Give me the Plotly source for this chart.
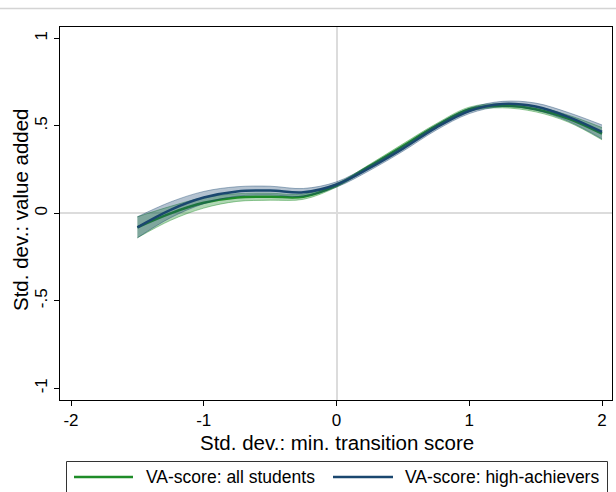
import plotly.graph_objects as go

x_vals = [-1.5, -1.25, -1.0, -0.75, -0.5, -0.25, 0.0, 0.25, 0.5, 0.75, 1.0, 1.25, 1.5, 1.75, 2.0]

all_mean = [-0.08, 0.0, 0.06, 0.09, 0.095, 0.095, 0.16, 0.27, 0.385, 0.50, 0.595, 0.615, 0.595, 0.54, 0.455]
all_lo   = [-0.14, -0.04, 0.03, 0.068, 0.075, 0.08, 0.15, 0.26, 0.373, 0.488, 0.583, 0.603, 0.58, 0.52, 0.42]
all_hi   = [-0.02, 0.04, 0.09, 0.112, 0.115, 0.11, 0.17, 0.28, 0.397, 0.512, 0.607, 0.627, 0.61, 0.56, 0.49]

high_mean = [-0.08, 0.02, 0.09, 0.125, 0.13, 0.12, 0.165, 0.26, 0.37, 0.49, 0.585, 0.625, 0.61, 0.55, 0.465]
high_lo   = [-0.14, -0.025, 0.055, 0.098, 0.105, 0.098, 0.15, 0.245, 0.355, 0.475, 0.57, 0.61, 0.59, 0.525, 0.425]
high_hi   = [-0.02, 0.065, 0.125, 0.152, 0.155, 0.142, 0.18, 0.275, 0.385, 0.505, 0.60, 0.64, 0.63, 0.575, 0.505]

x_ticks = [-2, -1, 0, 1, 2]
x_ticklabels = ["-2", "-1", "0", "1", "2"]
y_ticks = [-1, -0.5, 0, 0.5, 1]
y_ticklabels = ["-1", "-.5", "0", ".5", "1"]

series_names = ["VA-score: all students", "VA-score: high-achievers"]

GREEN = "#1e8c28"
NAVY = "#1a476f"
FONT = "Liberation Sans, Arial, Helvetica, sans-serif"

fig = go.Figure()

def band(lo, hi, fill, edge):
    fig.add_trace(go.Scatter(x=x_vals, y=hi, mode="lines", line=dict(color=edge, width=0.8, shape="spline"),
                             showlegend=False, hoverinfo="skip"))
    fig.add_trace(go.Scatter(x=x_vals, y=lo, mode="lines", line=dict(color=edge, width=0.8, shape="spline"),
                             fill="tonexty", fillcolor=fill, showlegend=False, hoverinfo="skip"))

band(all_lo, all_hi, "rgba(30,140,40,0.35)", "rgba(30,140,40,0.55)")
fig.add_trace(go.Scatter(x=x_vals, y=all_mean, mode="lines", name=series_names[0], showlegend=False,
                         line=dict(color=GREEN, width=2.5, shape="spline")))
band(high_lo, high_hi, "rgba(26,71,111,0.33)", "rgba(26,71,111,0.5)")
fig.add_trace(go.Scatter(x=x_vals, y=high_mean, mode="lines", name=series_names[1], showlegend=False,
                         line=dict(color=NAVY, width=2.5, shape="spline")))

# pixel -> paper helpers (plot area: x 60..612, y 27..400)
def px(p):
    return (p - 60) / 552.0

def py(p):
    return (400 - p) / 373.0

shapes = [
    dict(type="line", xref="paper", yref="paper", x0=px(0), x1=px(616), y0=py(8.5), y1=py(8.5),
         line=dict(color="#d4d4d4", width=1.5)),
    # legend box
    dict(type="rect", xref="paper", yref="paper", x0=px(66.5), x1=px(607.5), y0=py(461.5), y1=py(500),
         line=dict(color="#333333", width=1), fillcolor="white"),
    dict(type="line", xref="paper", yref="paper", x0=px(74), x1=px(133), y0=py(477), y1=py(477),
         line=dict(color=GREEN, width=2.5)),
    dict(type="line", xref="paper", yref="paper", x0=px(333), x1=px(393), y0=py(477), y1=py(477),
         line=dict(color=NAVY, width=2.5)),
]

annotations = [
    dict(text=series_names[0], xref="paper", yref="paper", x=px(144), y=py(477), xanchor="left",
         yanchor="middle", showarrow=False, font=dict(size=17.5)),
    dict(text=series_names[1], xref="paper", yref="paper", x=px(403), y=py(477), xanchor="left",
         yanchor="middle", showarrow=False, font=dict(size=17.5)),
    dict(text="Std. dev.: min. transition score", xref="paper", yref="paper", x=px(337), y=py(442),
         xanchor="center", yanchor="middle", showarrow=False, font=dict(size=20.5)),
    dict(text="Std. dev.: value added", xref="paper", yref="paper", x=px(20), y=py(210),
         xanchor="center", yanchor="middle", textangle=-90, showarrow=False, font=dict(size=20.5)),
]

fig.update_layout(
    width=616, height=492,
    margin=dict(l=60, r=4, t=27, b=92, autoexpand=False),
    paper_bgcolor="white", plot_bgcolor="white",
    font=dict(family=FONT, color="black", size=17),
    showlegend=False,
    xaxis=dict(range=[-2.083, 2.075], tickvals=x_ticks, ticktext=x_ticklabels,
               showgrid=False, zeroline=True, zerolinecolor="#dcdcdc", zerolinewidth=1.5,
               showline=True, linecolor="black", linewidth=1, mirror=True,
               ticks="outside", ticklen=5, tickcolor="black", tickfont=dict(size=17)),
    yaxis=dict(range=[-1.067, 1.065], tickvals=y_ticks, ticktext=y_ticklabels, tickangle=-90,
               showgrid=False, zeroline=True, zerolinecolor="#dcdcdc", zerolinewidth=1.5,
               showline=True, linecolor="black", linewidth=1, mirror=True,
               ticks="outside", ticklen=5, tickcolor="black", tickfont=dict(size=17)),
    shapes=shapes,
    annotations=annotations,
)

fig.write_html("out.html")
